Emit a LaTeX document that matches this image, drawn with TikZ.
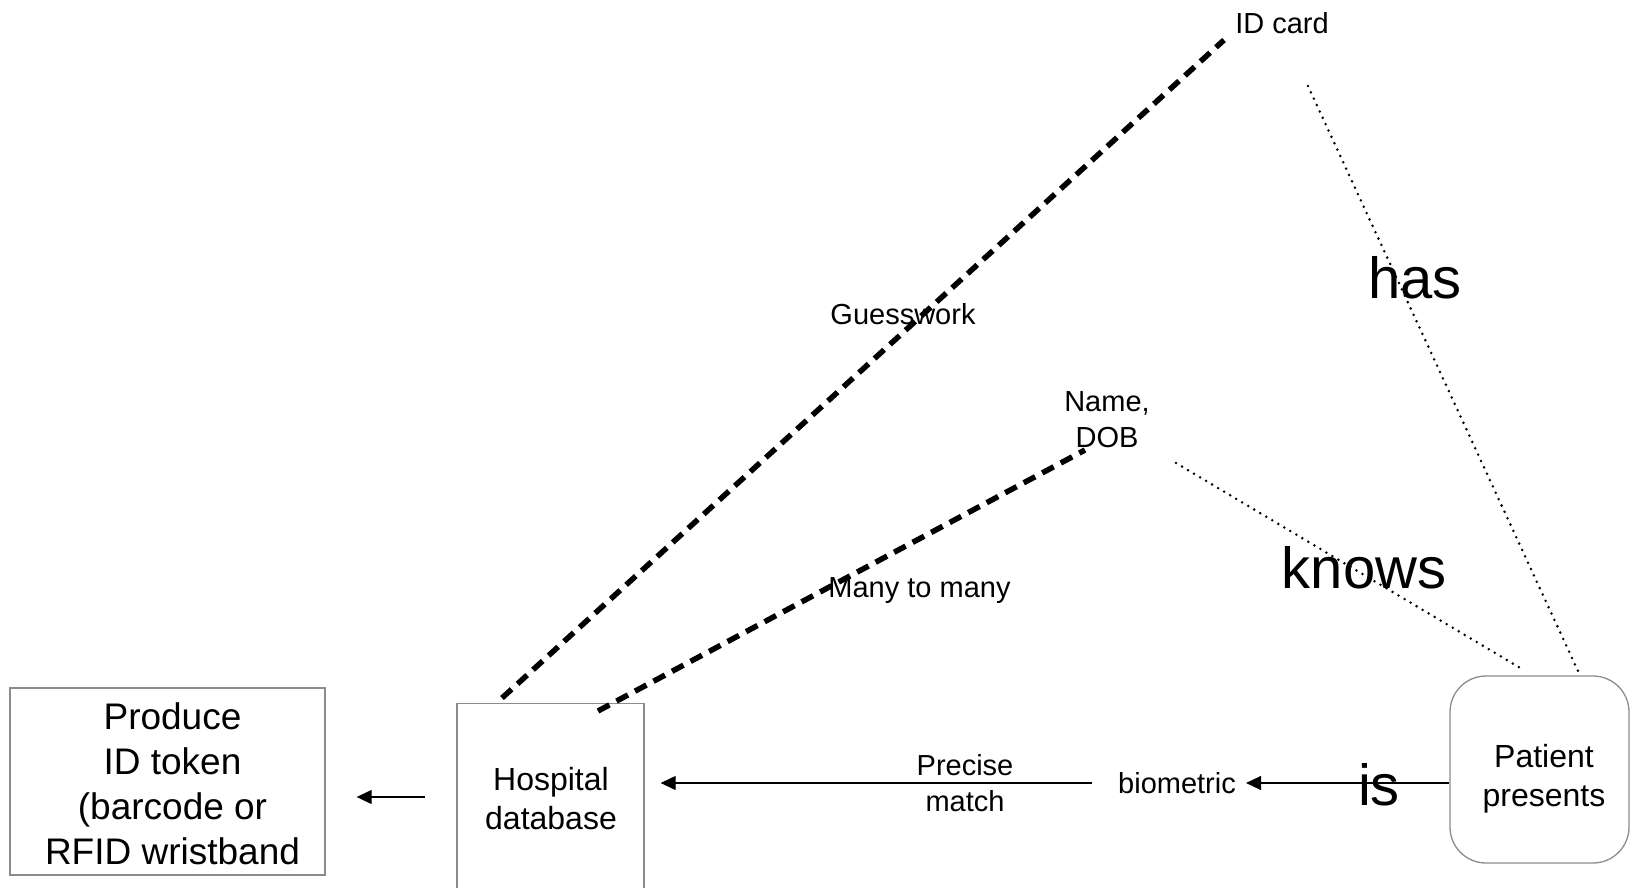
\documentclass[tikz,border=0pt]{standalone}
\usepackage{fontspec}
\setmainfont{Liberation Sans}
\usetikzlibrary{arrows.meta,calc}
\definecolor{boxgray}{RGB}{140,140,140}
\begin{document}
\begin{tikzpicture}[x=1pt,y=-1pt,
  box/.style={draw=boxgray, line width=1.3pt, inner sep=0pt},
  conn/.style={draw=black, line width=1.1pt},
  arr/.style={conn, -{Triangle[length=15pt,width=14pt]}},
  guess/.style={draw=black, line width=5.5pt, dash pattern=on 13pt off 8pt},
  dots/.style={draw=black, line width=2.8pt, line cap=round, dash pattern=on 0pt off 7pt},
  small/.style={font=\fontsize{29}{36}\selectfont, align=center, inner sep=0pt},
  mid/.style={font=\fontsize{32}{39}\selectfont, align=center, inner sep=0pt},
  big/.style={font=\fontsize{37}{45}\selectfont, align=center, inner sep=0pt},
  huge/.style={font=\fontsize{58}{70}\selectfont, inner sep=0pt}]
\path[use as bounding box] (0,0) rectangle (1631,887);
\clip (0,0) rectangle (1631,887);
% boxes
\node[box, minimum width=315pt, minimum height=187pt] (prod) at (167.5,781.5) {};
\node[big] (prodtext) at ($(prod.center)+(5,2)$) {Produce\\ID token\\(barcode or\\RFID wristband};
\node[box, minimum width=187pt, minimum height=200pt, anchor=north] (hosp) at (550.5,703) {};
\node[mid] (hosptext) at (551,798.5) {Hospital\\database};
\node[box, rounded corners=36pt, minimum width=179pt, minimum height=187pt] (pat) at (1539.5,769.5) {};
\node[mid] (pattext) at (1544,779) {Patient\\presents};
% labels
\node[small] (bio) at (1177,783) {biometric};
\node[small] (prec) at (965,783) {Precise\\match};
\node[small] (idc) at (1282,23) {ID card};
\node[small] (ndob) at (1107,420) {Name,\\DOB};
\node[small] (guess) at (903,314) {Guesswork};
\node[small] (many) at (919.5,591) {Many to many};
\node[huge] (has) at (1415,278) {has};
\node[huge] (knows) at (1364,568) {knows};
\node[huge] (is) at (1379,785) {is};
% free ends
\coordinate (g1) at (502,698);
\coordinate (g2) at (1224,40);
\coordinate (m1) at (598,711);
\coordinate (m2) at (1085,450);
\coordinate (k1) at (1176,463);
\coordinate (k2) at (1522,669);
\coordinate (h1) at (1308,86);
\coordinate (h2) at (1578,671);
% connectors
\draw[arr] (pat.west |- bio) -- ($(bio.east)+(10,0)$);
\draw[arr] ($(bio.west)+(-26,0)$) -- ($(hosp.east |- bio.west)+(16,0)$);
\draw[arr, shorten <=31pt, shorten >=31pt] (hosp.west |- 0,797) -- (prod.east |- 0,797);
\draw[guess] (g1) -- (g2);
\draw[guess] (m1) -- (m2);
\draw[dots] (k1) -- (k2);
\draw[dots] (h1) -- (h2);
\end{tikzpicture}
\end{document}
